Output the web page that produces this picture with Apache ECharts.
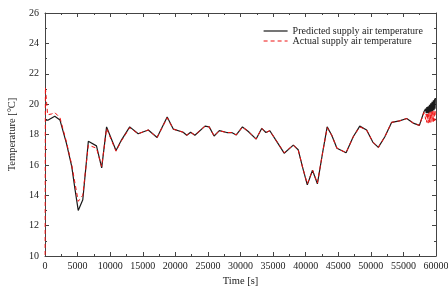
<!DOCTYPE html>
<html>
<head>
<meta charset="utf-8">
<script src="https://cdn.jsdelivr.net/npm/echarts@6/dist/echarts.min.js"></script>
<style>
html,body{margin:0;padding:0;background:#fff;}
#main{width:448px;height:290px;}
</style>
</head>
<body>
<div id="main"></div>
<script>
// 预测值 (black)
var predTime = [0, 500, 1500, 2300, 3300, 4100, 4600, 5100, 5800, 6650, 7900, 8700, 9450, 10900, 11750, 13000, 14300, 15850, 17200, 18750, 19700, 21200, 21750, 22350, 23000, 24550, 25200, 25950, 26750, 27900, 28650, 29350, 30300, 31200, 32400, 33250, 33900, 34500, 35550, 36700, 38100, 38850, 39550, 40250, 41050, 41800, 42600, 43300, 44000, 44800, 46200, 47300, 48300, 49350, 50300, 51150, 52150, 53200, 54400, 55500, 56500, 57450, 58150,
	58300, 58400, 58500, 58600, 58700, 58800, 58900, 59000, 59100, 59200, 59300, 59400, 59500, 59600, 59700, 59800, 59850, 59900];
var predTemp = [18.95, 18.95, 19.2, 18.95, 17.4, 15.9, 14.4, 13.0, 13.7, 17.55, 17.25, 15.8, 18.5, 16.95, 17.65, 18.5, 18.05, 18.3, 17.8, 19.15, 18.35, 18.15, 17.95, 18.15, 17.95, 18.55, 18.5, 17.9, 18.25, 18.13, 18.13, 17.97, 18.5, 18.2, 17.7, 18.4, 18.13, 18.25, 17.55, 16.77, 17.3, 17.0, 15.8, 14.68, 15.65, 14.75, 16.8, 18.5, 17.95, 17.1, 16.8, 17.85, 18.55, 18.3, 17.5, 17.15, 17.85, 18.8, 18.9, 19.05, 18.75, 18.6, 19.5,
	19.45, 19.7, 19.4, 19.8, 19.4, 19.85, 19.4, 19.95, 19.45, 20.05, 19.5, 20.15, 19.55, 20.25, 19.6, 20.35, 19.7, 20.4];
// 实测值 (red dashed)
var actTime = [0, 60, 400, 1000, 1500, 2300, 3300, 4100, 4600, 5100, 5800, 6650, 7900, 8700, 9450, 10900, 11750, 13000, 14300, 15850, 17200, 18750, 19700, 21200, 21750, 22350, 23000, 24550, 25200, 25950, 26750, 27900, 28650, 29350, 30300, 31200, 32400, 33250, 33900, 34500, 35550, 36700, 38100, 38850, 39550, 40250, 41050, 41800, 42600, 43300, 44000, 44800, 46200, 47300, 48300, 49350, 50300, 51150, 52150, 53200, 54400, 55500, 56500, 57450, 58150,
	58300, 58400, 58500, 58600, 58700, 58800, 58900, 59000, 59100, 59200, 59300, 59400, 59500, 59600, 59700, 59800, 59900];
var actTemp = [5, 21.1, 19.3, 19.35, 19.45, 19.1, 17.5, 16.0, 14.8, 13.6, 14.0, 17.3, 17.1, 15.9, 18.4, 16.9, 17.6, 18.45, 18.05, 18.3, 17.8, 19.1, 18.35, 18.15, 17.95, 18.15, 17.95, 18.55, 18.5, 17.9, 18.25, 18.13, 18.13, 17.97, 18.5, 18.2, 17.7, 18.4, 18.13, 18.25, 17.55, 16.8, 17.3, 17.0, 15.8, 14.75, 15.65, 14.8, 16.8, 18.45, 17.95, 17.1, 16.8, 17.85, 18.5, 18.3, 17.5, 17.15, 17.85, 18.8, 18.9, 19.05, 18.75, 18.6, 19.45,
	19.3, 19.0, 19.35, 18.8, 19.4, 18.75, 19.45, 18.8, 19.5, 18.8, 19.5, 18.85, 19.55, 18.85, 19.6, 18.9, 19.6];

var xTicks = {min: 0, max: 60000, interval: 5000};
var yTicks = {min: 10, max: 26, interval: 2};

function pairs(t, v) {
	var out = [];
	for(var i = 0; i < t.length; i++) {
		out.push([t[i], v[i]]);
	}
	return out;
}

var font = 'Liberation Serif';
var axisCol = '#444';

function xAx(pos, show) {
	return {
		type: 'value', position: pos,
		min: xTicks.min, max: xTicks.max, interval: xTicks.interval,
		name: show ? 'Time [s]' : '', nameLocation: 'middle', nameGap: 20,
		nameTextStyle: {fontFamily: font, fontSize: 10.5, color: '#222'},
		axisLine: {show: true, onZero: false, lineStyle: {color: axisCol, width: 1}},
		axisTick: {show: true, inside: true, length: 4, lineStyle: {color: axisCol}},
		minorTick: {show: true, splitNumber: 2, length: 2, lineStyle: {color: axisCol}},
		axisLabel: {show: show, margin: 5, fontFamily: font, fontSize: 10, color: '#222',
			formatter: function(v) { return String(v); }},
		splitLine: {show: false}
	};
}
function yAx(pos, show) {
	return {
		type: 'value', position: pos,
		min: yTicks.min, max: yTicks.max, interval: yTicks.interval,
		name: show ? 'Temperature [°C]' : '', nameLocation: 'middle', nameGap: 22,
		nameTextStyle: {fontFamily: font, fontSize: 10.5, color: '#222'},
		axisLine: {show: true, onZero: false, lineStyle: {color: axisCol, width: 1}},
		axisTick: {show: true, inside: true, length: 4, lineStyle: {color: axisCol}},
		minorTick: {show: true, splitNumber: 2, length: 2, lineStyle: {color: axisCol}},
		axisLabel: {show: show, margin: 6, fontFamily: font, fontSize: 10, color: '#222'},
		splitLine: {show: false}
	};
}

var myChart = echarts.init(document.getElementById('main'));
var option = {
	animation: false,
	backgroundColor: '#fff',
	grid: {left: 45, right: 12, top: 13, bottom: 34, containLabel: false, outerBoundsMode: 'none'},
	xAxis: [xAx('bottom', true), xAx('top', false)],
	yAxis: [yAx('left', true), yAx('right', false)],
	legend: {
		orient: 'vertical', left: 258, top: 21,
		itemWidth: 24, itemHeight: 8, itemGap: 0,
		itemStyle: {opacity: 0},
		lineStyle: {width: 1.2},
		textStyle: {fontFamily: font, fontSize: 10, color: '#222'},
		data: ['Predicted supply air temperature', 'Actual supply air temperature']
	},
	series: [{
		name: 'Predicted supply air temperature',
		type: 'line', symbol: 'none', clip: true,
		data: pairs(predTime, predTemp),
		lineStyle: {color: '#1a1a1a', width: 1.2},
		itemStyle: {color: '#1a1a1a'}
	}, {
		name: 'Actual supply air temperature',
		type: 'line', symbol: 'none', clip: true,
		data: pairs(actTime, actTemp),
		lineStyle: {color: '#ee1111', width: 1, type: [4, 3]},
		itemStyle: {color: '#ee1111'}
	}]
};
myChart.setOption(option);
</script>
</body>
</html>
